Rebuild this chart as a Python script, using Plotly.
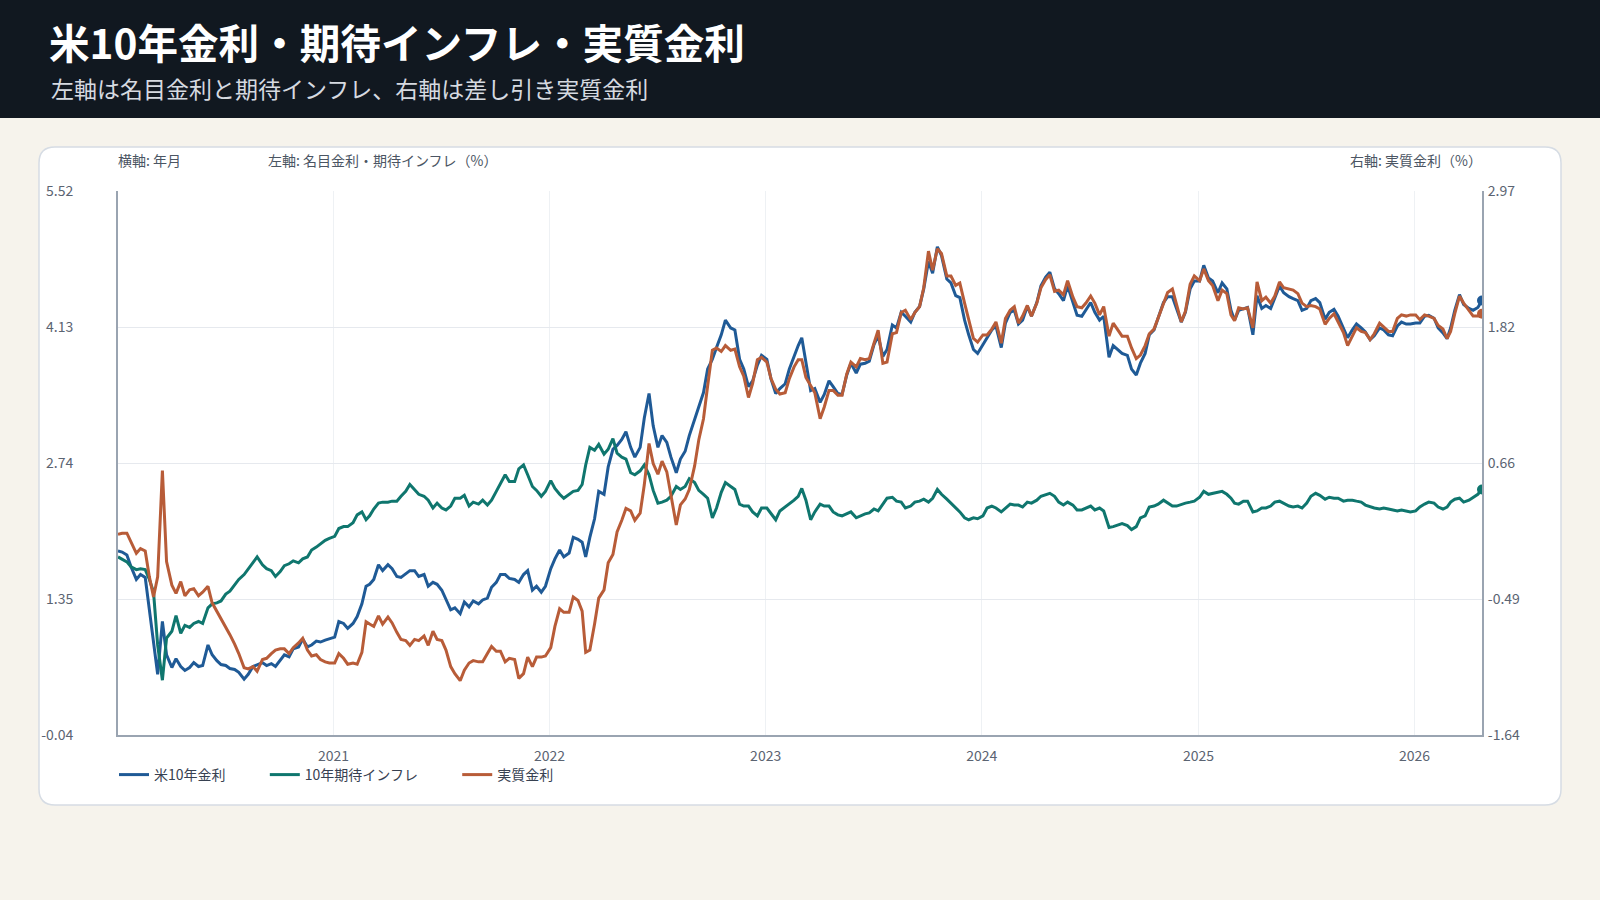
import plotly.graph_objects as go

# ---------------- data ----------------
# four readings per month, on days 3, 10, 18 and 25
MONTHS = [(y, m) for y in range(2020, 2027) for m in range(1, 13) if (y, m) <= (2026, 4)]
DAYS = [3, 10, 18, 25]
dates = [f"{y}-{m:02d}-{d:02d}" for (y, m) in MONTHS for d in DAYS]

# US 10-year nominal yield (%), left axis
nominal = [
    # 2020
    1.84, 1.83, 1.80, 1.68,  1.55, 1.60, 1.57, 1.25,  0.95, 0.58, 1.12, 0.78,
    0.65, 0.74, 0.66, 0.62,  0.65, 0.70, 0.66, 0.67,  0.88, 0.78, 0.72, 0.68,
    0.67, 0.64, 0.63, 0.60,  0.53, 0.58, 0.66, 0.68,  0.70, 0.67, 0.69, 0.66,
    0.72, 0.78, 0.76, 0.84,  0.86, 0.94, 0.86, 0.88,  0.92, 0.91, 0.93, 0.94,
    # 2021
    0.96, 1.12, 1.10, 1.05,  1.10, 1.17, 1.30, 1.48,  1.50, 1.55, 1.70, 1.64,
    1.70, 1.66, 1.58, 1.57,  1.61, 1.64, 1.64, 1.58,  1.60, 1.48, 1.52, 1.50,
    1.44, 1.34, 1.24, 1.26,  1.20, 1.32, 1.27, 1.33,  1.30, 1.34, 1.36, 1.47,
    1.52, 1.60, 1.60, 1.56,  1.55, 1.52, 1.60, 1.64,  1.44, 1.48, 1.42, 1.48,
    # 2022
    1.66, 1.76, 1.85, 1.78,  1.82, 1.98, 1.96, 1.93,  1.78, 1.98, 2.17, 2.45,
    2.42, 2.70, 2.88, 2.92,  2.98, 3.06, 2.90, 2.80,  2.90, 3.20, 3.45, 3.12,
    2.90, 3.02, 2.95, 2.80,  2.64, 2.78, 2.86, 3.02,  3.18, 3.32, 3.46, 3.70,
    3.80, 3.92, 4.05, 4.20,  4.12, 4.10, 3.80, 3.70,  3.52, 3.58, 3.74, 3.84,
    # 2023
    3.80, 3.60, 3.45, 3.50,  3.55, 3.70, 3.84, 3.94,  4.02, 3.75, 3.48, 3.50,
    3.36, 3.44, 3.58, 3.52,  3.45, 3.44, 3.64, 3.76,  3.66, 3.75, 3.76, 3.78,
    3.95, 4.04, 3.83, 3.90,  4.15, 4.12, 4.28, 4.24,  4.18, 4.28, 4.34, 4.52,
    4.80, 4.68, 4.95, 4.86,  4.62, 4.58, 4.45, 4.43,  4.20, 4.05, 3.90, 3.86,
    # 2024
    3.95, 4.03, 4.10, 4.14,  3.92, 4.17, 4.28, 4.30,  4.16, 4.20, 4.34, 4.24,
    4.38, 4.55, 4.64, 4.69,  4.52, 4.47, 4.40, 4.55,  4.38, 4.25, 4.24, 4.30,
    4.38, 4.28, 4.20, 4.24,  3.82, 3.94, 3.90, 3.86,  3.84, 3.70, 3.64, 3.76,
    3.86, 4.05, 4.10, 4.22,  4.38, 4.44, 4.44, 4.32,  4.18, 4.28, 4.52, 4.60,
    # 2025
    4.60, 4.76, 4.63, 4.60,  4.48, 4.58, 4.52, 4.30,  4.20, 4.30, 4.32, 4.33,
    4.05, 4.45, 4.32, 4.35,  4.32, 4.42, 4.55, 4.48,  4.44, 4.42, 4.40, 4.30,
    4.32, 4.40, 4.42, 4.38,  4.21, 4.28, 4.31, 4.24,  4.12, 4.02, 4.10, 4.16,
    4.12, 4.08, 4.00, 4.04,  4.12, 4.10, 4.05, 4.04,  4.14, 4.18, 4.16, 4.16,
    # 2026
    4.17, 4.17, 4.24, 4.25,  4.22, 4.12, 4.07, 4.01,  4.12, 4.30, 4.46, 4.36,
    4.32, 4.30, 4.33, 4.40,
]

# 10-year breakeven inflation (%), left axis
inflation = [
    # 2020
    1.78, 1.76, 1.73, 1.68,  1.65, 1.66, 1.65, 1.55,  1.42, 0.88, 0.52, 0.95,
    1.02, 1.18, 1.00, 1.08,  1.06, 1.10, 1.12, 1.10,  1.26, 1.30, 1.31, 1.33,
    1.40, 1.43, 1.50, 1.55,  1.60, 1.66, 1.72, 1.78,  1.70, 1.66, 1.64, 1.58,
    1.63, 1.69, 1.71, 1.74,  1.72, 1.76, 1.78, 1.85,  1.88, 1.91, 1.95, 1.97,
    # 2021
    1.99, 2.07, 2.09, 2.09,  2.13, 2.21, 2.24, 2.16,  2.20, 2.27, 2.33, 2.34,
    2.34, 2.35, 2.35, 2.40,  2.45, 2.52, 2.47, 2.42,  2.40, 2.36, 2.28, 2.33,
    2.28, 2.26, 2.30, 2.38,  2.38, 2.41, 2.30, 2.34,  2.32, 2.36, 2.31, 2.36,
    2.45, 2.53, 2.62, 2.55,  2.55, 2.68, 2.72, 2.62,  2.50, 2.46, 2.40, 2.45,
    # 2022
    2.56, 2.48, 2.42, 2.38,  2.42, 2.45, 2.46, 2.52,  2.72, 2.90, 2.87, 2.93,
    2.83, 2.88, 2.99, 2.84,  2.80, 2.78, 2.64, 2.62,  2.66, 2.72, 2.62, 2.46,
    2.33, 2.34, 2.36, 2.40,  2.50, 2.47, 2.50, 2.58,  2.54, 2.46, 2.42, 2.38,
    2.18, 2.28, 2.44, 2.54,  2.50, 2.47, 2.32, 2.30,  2.30, 2.24, 2.20, 2.28,
    # 2023
    2.28, 2.22, 2.16, 2.25,  2.29, 2.32, 2.36, 2.40,  2.48, 2.36, 2.16, 2.24,
    2.32, 2.30, 2.30, 2.24,  2.21, 2.20, 2.22, 2.24,  2.18, 2.20, 2.22, 2.23,
    2.27, 2.25, 2.32, 2.38,  2.39, 2.35, 2.34, 2.28,  2.30, 2.34, 2.35, 2.37,
    2.34, 2.38, 2.47, 2.42,  2.37, 2.33, 2.28, 2.24,  2.18, 2.16, 2.18, 2.17,
    # 2024
    2.20, 2.28, 2.30, 2.28,  2.24, 2.28, 2.32, 2.31,  2.31, 2.29, 2.34, 2.33,
    2.36, 2.40, 2.42, 2.43,  2.40, 2.34, 2.31, 2.34,  2.31, 2.26, 2.26, 2.28,
    2.30, 2.26, 2.28, 2.25,  2.08, 2.09, 2.11, 2.12,  2.10, 2.06, 2.09, 2.18,
    2.20, 2.29, 2.30, 2.32,  2.36, 2.33, 2.30, 2.30,  2.32, 2.33, 2.34, 2.35,
    # 2025
    2.39, 2.45, 2.42, 2.43,  2.44, 2.45, 2.42, 2.38,  2.33, 2.32, 2.35, 2.35,
    2.24, 2.25, 2.28, 2.28,  2.30, 2.34, 2.35, 2.33,  2.30, 2.29, 2.30, 2.28,
    2.33, 2.40, 2.43, 2.41,  2.37, 2.39, 2.38, 2.38,  2.35, 2.36, 2.36, 2.35,
    2.34, 2.31, 2.29, 2.28,  2.27, 2.28, 2.27, 2.26,  2.25, 2.26, 2.25, 2.24,
    # 2026
    2.25, 2.29, 2.32, 2.34,  2.33, 2.29, 2.27, 2.29,  2.34, 2.37, 2.38, 2.34,
    2.36, 2.39, 2.42, 2.47,
]

# real yield = nominal minus breakeven (the chart's own definition), right axis
real = [round(n - i, 2) for n, i in zip(nominal, inflation)]

SERIES_NAMES = ["米10年金利", "10年期待インフレ", "実質金利"]
LEFT_TICKS = [-0.04, 1.35, 2.74, 4.13, 5.52]
LEFT_TICKTEXT = ["-0.04", "1.35", "2.74", "4.13", "5.52"]
RIGHT_RANGE = [-1.64, 2.97]
RIGHT_TICKS = [-1.64, -0.4875, 0.665, 1.8175, 2.97]
RIGHT_TICKTEXT = ["-1.64", "-0.49", "0.66", "1.82", "2.97"]
YEAR_TICKS = ["2021-01-01", "2022-01-01", "2023-01-01", "2024-01-01", "2025-01-01", "2026-01-01"]
YEAR_TEXT = ["2021", "2022", "2023", "2024", "2025", "2026"]

TITLE = "米10年金利・期待インフレ・実質金利"
SUBTITLE = "左軸は名目金利と期待インフレ、右軸は差し引き実質金利"

# ---------------- style ----------------
W, H = 1600, 900
PL, PR, PT, PB = 118, 1482, 191, 735  # plot area in pixels
FONT = "Noto Sans CJK JP"
C_BLUE, C_GREEN, C_ORANGE = "#1F5A96", "#0F766E", "#B85C38"
AXIS = "#9AA4B1"
TXT = "#4B5563"
LEGEND_PAD = "\u3000\u3000\u00a0\u00a0"  # extra room between legend entries


def px(x):
    return (x - PL) / (PR - PL)


def py(y):
    return (PB - y) / (PB - PT)


def rounded_rect(x0, y0, x1, y1, r):
    pts = [
        ("M", (x0 + r, y0)), ("L", (x1 - r, y0)), ("Q", (x1, y0), (x1, y0 + r)),
        ("L", (x1, y1 - r)), ("Q", (x1, y1), (x1 - r, y1)), ("L", (x0 + r, y1)),
        ("Q", (x0, y1), (x0, y1 - r)), ("L", (x0, y0 + r)), ("Q", (x0, y0), (x0 + r, y0)),
    ]
    out = []
    for cmd, *ps in pts:
        out.append(cmd + " " + " ".join(f"{px(a):.5f},{py(b):.5f}" for a, b in ps))
    return " ".join(out) + " Z"


fig = go.Figure()
fig.add_trace(go.Scatter(x=dates, y=nominal, name=SERIES_NAMES[0] + LEGEND_PAD, mode="lines",
                         line=dict(color=C_BLUE, width=3), yaxis="y"))
fig.add_trace(go.Scatter(x=dates, y=inflation, name=SERIES_NAMES[1] + LEGEND_PAD, mode="lines",
                         line=dict(color=C_GREEN, width=3), yaxis="y"))
fig.add_trace(go.Scatter(x=dates, y=real, name=SERIES_NAMES[2], mode="lines",
                         line=dict(color=C_ORANGE, width=3), yaxis="y2"))
# end-point dots
fig.add_trace(go.Scatter(x=[dates[-1]], y=[nominal[-1]], mode="markers", showlegend=False,
                         marker=dict(color=C_BLUE, size=10), yaxis="y"))
fig.add_trace(go.Scatter(x=[dates[-1]], y=[inflation[-1]], mode="markers", showlegend=False,
                         marker=dict(color=C_GREEN, size=10), yaxis="y"))
fig.add_trace(go.Scatter(x=[dates[-1]], y=[real[-1]], mode="markers", showlegend=False,
                         marker=dict(color=C_ORANGE, size=10), yaxis="y2"))

shapes = [
    # header band
    dict(type="rect", xref="paper", yref="paper", x0=px(0), x1=px(W), y0=py(118), y1=py(0),
         fillcolor="#111820", line=dict(width=0), layer="below"),
    # white card
    dict(type="path", xref="paper", yref="paper", path=rounded_rect(39, 147, 1561, 805, 16),
         fillcolor="#FFFFFF", line=dict(color="#D6DCE4", width=1.5), layer="below"),
]

annotations = [
    dict(text=f"<b>{TITLE}</b>", x=px(47), y=py(41), xref="paper", yref="paper",
         xanchor="left", yanchor="middle", showarrow=False,
         font=dict(family=FONT, size=40.6, color="#FFFFFF")),
    dict(text=SUBTITLE, x=px(49), y=py(88), xref="paper", yref="paper",
         xanchor="left", yanchor="middle", showarrow=False,
         font=dict(family=FONT, size=23, color="#D6DAE0")),
    dict(text="横軸: 年月", x=px(116), y=py(160), xref="paper", yref="paper",
         xanchor="left", yanchor="middle", showarrow=False,
         font=dict(family=FONT, size=14, color=TXT)),
    dict(text="左軸: 名目金利・期待インフレ（%）", x=px(266), y=py(160), xref="paper", yref="paper",
         xanchor="left", yanchor="middle", showarrow=False,
         font=dict(family=FONT, size=14, color=TXT)),
    dict(text="右軸: 実質金利（%）", x=px(1484), y=py(160), xref="paper", yref="paper",
         xanchor="right", yanchor="middle", showarrow=False,
         font=dict(family=FONT, size=14, color=TXT)),
]

fig.update_layout(
    width=W, height=H,
    margin=dict(l=PL, r=W - PR, t=PT, b=H - PB, pad=0),
    paper_bgcolor="#F6F3EC",
    plot_bgcolor="rgba(0,0,0,0)",
    font=dict(family=FONT, size=14, color=TXT),
    shapes=shapes,
    annotations=annotations,
    showlegend=True,
    legend=dict(orientation="h", x=px(114), xanchor="left", y=py(775), yanchor="middle",
                font=dict(family=FONT, size=14, color="#374151"), bgcolor="rgba(0,0,0,0)",
                itemclick=False),
    xaxis=dict(type="date", range=[dates[0], dates[-1]], tickvals=YEAR_TICKS, ticktext=YEAR_TEXT,
               showgrid=True, gridcolor="#EEF1F4", gridwidth=1, showline=True, linecolor=AXIS,
               linewidth=2, ticks="", ticklabelstandoff=7, zeroline=False,
               tickfont=dict(family=FONT, size=14, color="#5B6472")),
    yaxis=dict(range=[LEFT_TICKS[0], LEFT_TICKS[-1]], tickvals=LEFT_TICKS, ticktext=LEFT_TICKTEXT,
               showgrid=True, gridcolor="#E6E9EE", gridwidth=1, showline=True, linecolor=AXIS,
               linewidth=2, ticks="", ticklabelstandoff=40, zeroline=False,
               tickfont=dict(family=FONT, size=14, color="#5B6472")),
    yaxis2=dict(range=RIGHT_RANGE, tickvals=RIGHT_TICKS, ticktext=RIGHT_TICKTEXT, overlaying="y",
                side="right", showgrid=False, showline=True, linecolor=AXIS, linewidth=2,
                ticks="", ticklabelstandoff=1, zeroline=False,
                tickfont=dict(family=FONT, size=14, color="#5B6472")),
    hovermode=False,
)

fig.write_html("out.html", config={"displayModeBar": False},
               post_script="document.body.style.margin='0';document.body.style.overflow='hidden';")
